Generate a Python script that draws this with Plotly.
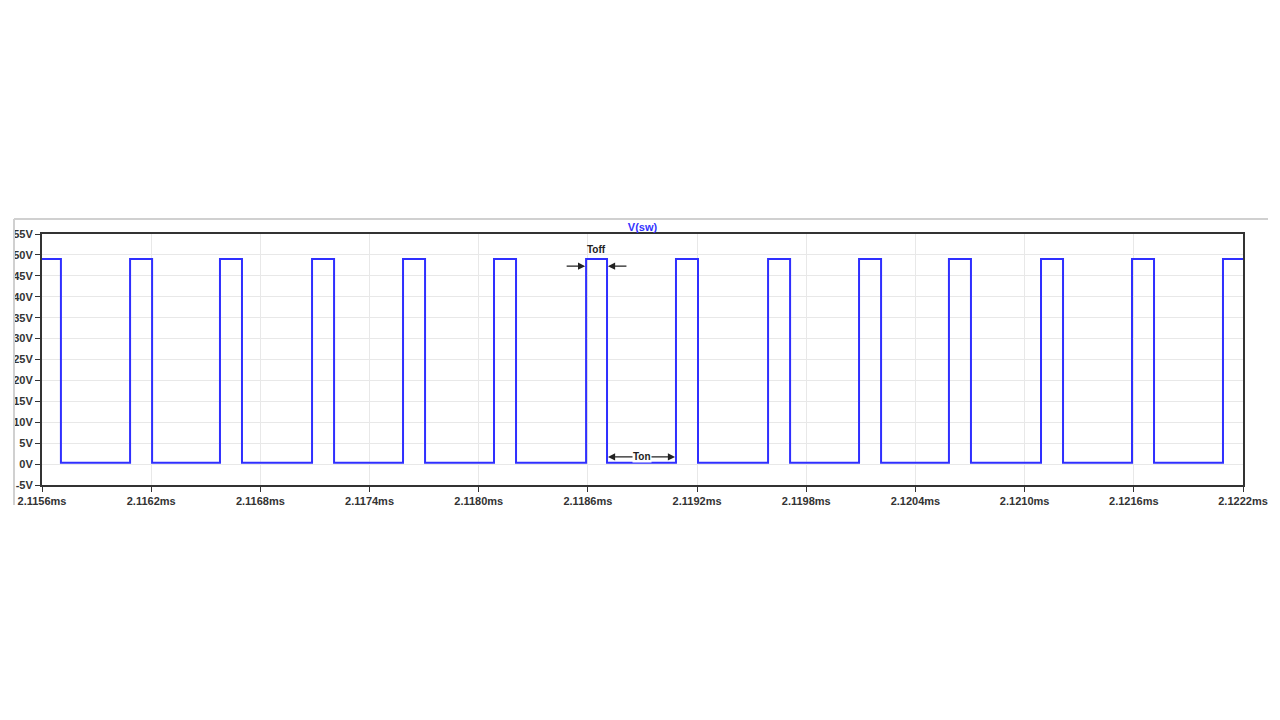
import plotly.graph_objects as go

# switching node edges (ms)
t_start = 2.1156
t_end = 2.1222
rise_times = [2.116084, 2.116578, 2.117084, 2.117584, 2.118084, 2.118590,
              2.119084, 2.119590, 2.120090, 2.120584, 2.121090, 2.121590, 2.122090]
fall_times = [2.115704, 2.116205, 2.116699, 2.117205, 2.117705, 2.118205,
              2.118705, 2.119205, 2.119711, 2.120211, 2.120705, 2.121211, 2.121711]
v_high = 49.0
v_low = 0.3

x_ticks = [2.1156, 2.1162, 2.1168, 2.1174, 2.1180, 2.1186, 2.1192,
           2.1198, 2.1204, 2.1210, 2.1216, 2.1222]
x_labels = ["2.1156ms", "2.1162ms", "2.1168ms", "2.1174ms", "2.1180ms", "2.1186ms",
            "2.1192ms", "2.1198ms", "2.1204ms", "2.1210ms", "2.1216ms", "2.1222ms"]
y_ticks = [-5, 0, 5, 10, 15, 20, 25, 30, 35, 40, 45, 50, 55]
y_labels = ["-5V", "0V", "5V", "10V", "15V", "20V", "25V", "30V", "35V", "40V", "45V", "50V", "55V"]

# build the step waveform from the edge list
edges = sorted([(t, v_low) for t in fall_times] + [(t, v_high) for t in rise_times])
xs = [t_start]
ys = [v_high]
level = v_high
for t, new in edges:
    xs += [t, t]
    ys += [level, new]
    level = new
xs.append(t_end)
ys.append(level)

fig = go.Figure()
fig.add_trace(go.Scatter(x=xs, y=ys, mode="lines",
                         line=dict(color="#2f2fff", width=2), showlegend=False))

# Toff / Ton markers around the pulse near 2.1186ms
p_rise = rise_times[5]
p_fall = fall_times[6]
next_rise = rise_times[6]
arrow_font = dict(family="Liberation Sans", size=10, color="#222222", weight="bold")
arrow_style = dict(xref="x", yref="y", axref="x", ayref="y", text="", showarrow=True,
                   arrowhead=2, arrowsize=1.2, arrowwidth=1.2, arrowcolor="#222222")
fig.add_annotation(x=(p_rise + p_fall) / 2, y=51.2, text="Toff",
                   showarrow=False, font=arrow_font)
fig.add_annotation(x=p_rise - 0.000005, y=47.3, ax=p_rise - 0.000115, ay=47.3, **arrow_style)
fig.add_annotation(x=p_fall + 0.000005, y=47.3, ax=p_fall + 0.000115, ay=47.3, **arrow_style)
fig.add_annotation(x=p_fall + 0.000005, y=1.7, ax=(p_fall + next_rise) / 2, ay=1.7, **arrow_style)
fig.add_annotation(x=next_rise - 0.000005, y=1.7, ax=(p_fall + next_rise) / 2, ay=1.7, **arrow_style)
fig.add_annotation(x=(p_fall + next_rise) / 2, y=1.7, text="Ton",
                   showarrow=False, bgcolor="white", borderpad=0, font=arrow_font)

# light frame of the original screenshot
fig.add_shape(type="line", xref="paper", yref="paper", x0=-0.0233, x1=1.0208,
              y0=1.0598, y1=1.0598, line=dict(color="#d0d0d0", width=2))
fig.add_shape(type="line", xref="paper", yref="paper", x0=-0.0233, x1=-0.0233,
              y0=1.0598, y1=-0.08, line=dict(color="#d0d0d0", width=2))

tick_font = dict(family="Liberation Sans", size=11, color="#333333", weight="bold")
fig.update_xaxes(range=[t_start, t_end], tickvals=x_ticks, ticktext=x_labels,
                 showgrid=True, gridcolor="#e8e8e8", gridwidth=1, zeroline=False,
                 showline=True, linecolor="#333333", linewidth=2, mirror=True,
                 ticks="outside", ticklen=5, tickcolor="#333333", tickfont=tick_font,
                 automargin=False)
fig.update_yaxes(range=[-5, 55], tickvals=y_ticks, ticktext=y_labels,
                 showgrid=True, gridcolor="#e8e8e8", gridwidth=1, zeroline=False,
                 showline=True, linecolor="#333333", linewidth=2, mirror=True,
                 ticks="outside", ticklen=5, tickcolor="#333333", tickfont=tick_font,
                 automargin=False)
fig.update_layout(
    width=1280, height=720,
    title=dict(text="V(sw)", x=0.5, xanchor="center", xref="paper",
               y=0.696, yanchor="middle",
               font=dict(family="Liberation Sans", size=11, color="#3333ff", weight="bold")),
    margin=dict(l=34, r=45, t=226, b=243),
    plot_bgcolor="white", paper_bgcolor="white",
    showlegend=False,
)

fig.write_html("out.html")
